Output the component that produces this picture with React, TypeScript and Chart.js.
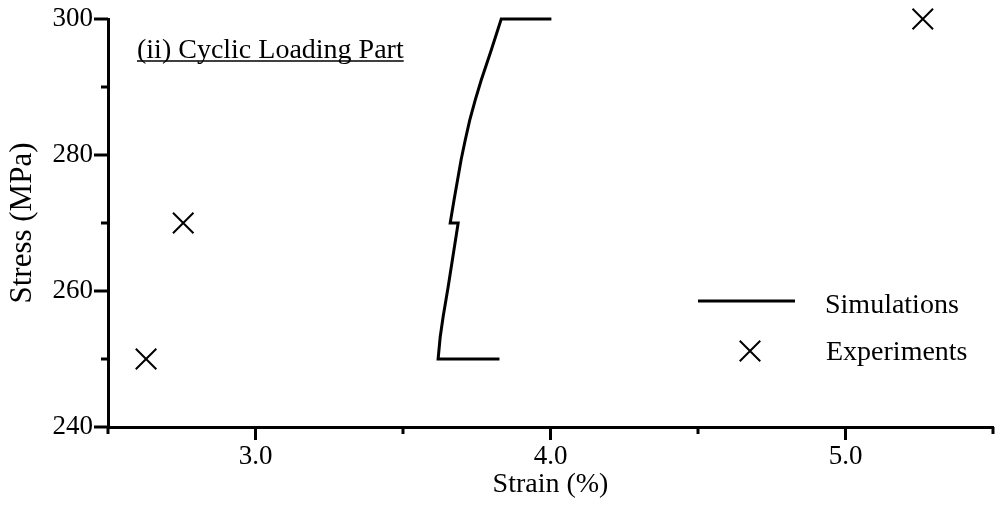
import React, { useEffect, useRef } from 'react';
import { Chart, registerables } from 'chart.js';

Chart.register(...registerables);

const FONT = "'Liberation Serif', 'Times New Roman', Times, serif";

// Simulation curve (strain %, stress MPa)
const simStrain = [3.827, 3.619, 3.626, 3.636, 3.653, 3.687, 3.660, 3.673, 3.697, 3.711, 3.726, 3.745, 3.765, 3.799, 3.833, 4.003];
const simStress = [250, 250, 253.2, 256.2, 260.6, 270, 270, 273.4, 279.3, 282.2, 285.1, 288.1, 291.0, 295.4, 300, 300];

// Experimental points
const expStrain = [2.629, 2.755, 5.262];
const expStress = [250, 270, 300];

// Axes
const xRange = [2.5, 5.5];
const yRange = [240, 300];
const xMajorTicks = [3.0, 4.0, 5.0];
const xMinorTicks = [2.5, 3.5, 4.5, 5.5];
const yMajorTicks = [240, 260, 280, 300];
const yMinorTicks = [250, 270, 290];

const xLabel = 'Strain (%)';
const yLabel = 'Stress (MPa)';
const noteText = '(ii) Cyclic Loading Part';
const seriesNames = ['Simulations', 'Experiments'];

const tickPlugin = {
  id: 'customTicks',
  afterDraw(chart: any) {
    const { ctx, chartArea, scales } = chart;
    const xs = scales.x;
    const ys = scales.y;
    ctx.save();
    ctx.strokeStyle = '#000';
    ctx.lineWidth = 3;
    ctx.lineCap = 'butt';
    const drawX = (v: number, len: number) => {
      const p = xs.getPixelForValue(v);
      ctx.beginPath();
      ctx.moveTo(p, chartArea.bottom);
      ctx.lineTo(p, chartArea.bottom + len);
      ctx.stroke();
    };
    const drawY = (v: number, len: number) => {
      const p = ys.getPixelForValue(v);
      ctx.beginPath();
      ctx.moveTo(chartArea.left, p);
      ctx.lineTo(chartArea.left - len, p);
      ctx.stroke();
    };
    xMajorTicks.forEach((v) => drawX(v, 13));
    xMinorTicks.forEach((v) => drawX(v, 7));
    yMajorTicks.forEach((v) => drawY(v, 14));
    yMinorTicks.forEach((v) => drawY(v, 7));
    ctx.restore();
  },
};

const notePlugin = {
  id: 'noteAndLegend',
  afterDraw(chart: any) {
    const { ctx, chartArea } = chart;
    ctx.save();
    ctx.fillStyle = '#000';
    ctx.strokeStyle = '#000';
    // annotation
    ctx.font = `28px ${FONT}`;
    ctx.textAlign = 'left';
    ctx.textBaseline = 'alphabetic';
    const nx = chartArea.left + 29;
    const ny = chartArea.top + 39;
    ctx.fillText(noteText, nx, ny);
    const w = ctx.measureText(noteText).width;
    ctx.lineWidth = 1.5;
    ctx.beginPath();
    ctx.moveTo(nx, ny + 3);
    ctx.lineTo(nx + w, ny + 3);
    ctx.stroke();

    // legend
    const lx0 = chartArea.left + 590;
    const lx1 = chartArea.left + 687;
    const ly1 = chartArea.top + 282;
    ctx.lineWidth = 3;
    ctx.beginPath();
    ctx.moveTo(lx0, ly1);
    ctx.lineTo(lx1, ly1);
    ctx.stroke();
    ctx.font = `28px ${FONT}`;
    ctx.fillText(seriesNames[0], chartArea.left + 717, ly1 + 12);

    const cx = chartArea.left + 642;
    const cy = chartArea.top + 332;
    const r = 10.25;
    ctx.lineWidth = 2;
    ctx.beginPath();
    ctx.moveTo(cx - r, cy - r);
    ctx.lineTo(cx + r, cy + r);
    ctx.moveTo(cx - r, cy + r);
    ctx.lineTo(cx + r, cy - r);
    ctx.stroke();
    ctx.fillText(seriesNames[1], chartArea.left + 718, cy + 9);
    ctx.restore();
  },
};

export default function App() {
  const ref = useRef<HTMLCanvasElement | null>(null);

  useEffect(() => {
    if (!ref.current) return;
    const chart = new Chart(ref.current, {
      type: 'scatter',
      data: {
        datasets: [
          {
            label: seriesNames[0],
            data: simStrain.map((x, i) => ({ x, y: simStress[i] })),
            showLine: true,
            borderColor: '#000',
            backgroundColor: '#000',
            borderWidth: 3,
            pointRadius: 0,
            borderJoinStyle: 'miter',
            tension: 0,
            clip: false,
          } as any,
          {
            label: seriesNames[1],
            data: expStrain.map((x, i) => ({ x, y: expStress[i] })),
            showLine: false,
            borderColor: '#000',
            backgroundColor: '#000',
            pointStyle: 'crossRot',
            pointRadius: 14.5,
            pointBorderWidth: 2,
            borderWidth: 2,
            clip: false,
          } as any,
        ],
      },
      options: {
        responsive: false,
        animation: false,
        devicePixelRatio: 1,
        layout: { autoPadding: false, padding: { top: 19, right: 2, left: 0, bottom: 0 } },
        plugins: {
          legend: { display: false },
          tooltip: { enabled: false },
        },
        scales: {
          x: {
            type: 'linear',
            min: xRange[0],
            max: xRange[1],
            afterBuildTicks: (s: any) => {
              s.ticks = xMajorTicks.map((v) => ({ value: v }));
            },
            afterFit: (s: any) => {
              s.height = 78;
              s.paddingLeft = 0;
              s.paddingRight = 0;
            },
            ticks: {
              autoSkip: false,
              maxRotation: 0,
              color: '#000',
              padding: 1,
              font: { family: FONT, size: 27 },
              callback: (v: any) => Number(v).toFixed(1),
            },
            grid: {
              display: true,
              drawOnChartArea: false,
              drawTicks: true,
              tickLength: 13,
              color: 'rgba(0,0,0,0)',
            },
            border: { display: true, color: '#000', width: 3 },
            title: {
              display: true,
              text: xLabel,
              color: '#000',
              font: { family: FONT, size: 28 },
              padding: { top: 4, bottom: 4 },
            },
          },
          y: {
            type: 'linear',
            min: yRange[0],
            max: yRange[1],
            afterBuildTicks: (s: any) => {
              s.ticks = yMajorTicks.map((v) => ({ value: v }));
            },
            afterFit: (s: any) => {
              s.width = 108;
            },
            ticks: {
              autoSkip: false,
              color: '#000',
              padding: 1,
              font: { family: FONT, size: 27 },
              callback: (v: any) => String(v),
            },
            grid: {
              display: true,
              drawOnChartArea: false,
              drawTicks: true,
              tickLength: 14,
              color: 'rgba(0,0,0,0)',
            },
            border: { display: true, color: '#000', width: 3 },
            title: {
              display: true,
              text: yLabel,
              color: '#000',
              font: { family: FONT, size: 31 },
              padding: { top: 4, bottom: 4 },
            },
          },
        },
      },
      plugins: [tickPlugin, notePlugin],
    } as any);
    return () => chart.destroy();
  }, []);

  return (
    <div style={{ position: 'absolute', left: 0, top: 0, width: 995, height: 505, background: '#fff' }}>
      <canvas ref={ref} width={995} height={505} style={{ width: 995, height: 505, display: 'block' }} />
    </div>
  );
}
